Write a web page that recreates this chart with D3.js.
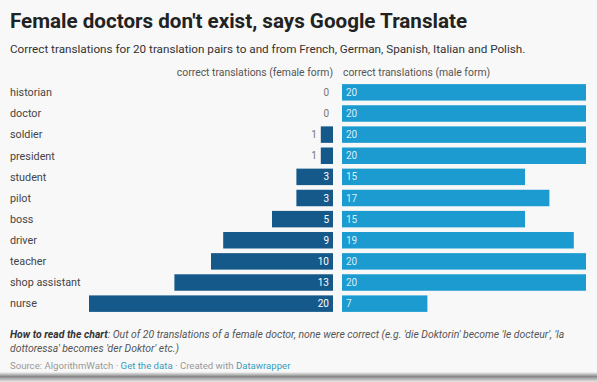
<!DOCTYPE html>
<html><head><meta charset="utf-8">
<script src="https://cdn.jsdelivr.net/npm/d3@7"></script>
<style>
html,body{margin:0;padding:0;background:#f7f7f7;}
svg{display:block;font-family:Roboto, "Noto Sans", sans-serif;}
</style></head>
<body>
<svg id="c" width="597" height="382"></svg>
<script>
const categories = ["historian","doctor","soldier","president","student","pilot","boss","driver","teacher","shop assistant","nurse"];
const femaleValues = [0,0,1,1,3,3,5,9,10,13,20];
const maleValues = [20,20,20,20,15,17,15,19,20,20,7];
const femaleLabel = "correct translations (female form)";
const maleLabel = "correct translations (male form)";

const svg = d3.select("#c");
const W = 597, H = 382;

const defs = svg.append("defs");
const g = defs.append("linearGradient").attr("id","sh").attr("x1",0).attr("x2",0).attr("y1",0).attr("y2",1);
g.append("stop").attr("offset","0%").attr("stop-color","#f7f7f7");
g.append("stop").attr("offset","45%").attr("stop-color","#888");
g.append("stop").attr("offset","100%").attr("stop-color","#e8e8e8");
svg.append("rect").attr("width",W).attr("height",H).attr("fill","#f8f8f8");
svg.append("rect").attr("x",0).attr("y",372).attr("width",W).attr("height",10).attr("fill","url(#sh)");

svg.append("text").attr("x",10).attr("y",28).attr("font-size",20.6).attr("font-weight",700).attr("fill","#222")
  .text("Female doctors don't exist, says Google Translate");
svg.append("text").attr("x",10).attr("y",53).attr("font-size",11.7).attr("fill","#333")
  .text("Correct translations for 20 translation pairs to and from French, German, Spanish, Italian and Polish.");

const y = d3.scaleBand().domain(categories).range([82, 314]).paddingInner(0.22).paddingOuter(0.1);
const xF = d3.scaleLinear().domain([0,20]).range([333, 89]);
const xM = d3.scaleLinear().domain([0,20]).range([342, 586]);

svg.append("text").attr("x",333).attr("y",76).attr("text-anchor","end").attr("font-size",10.4).attr("fill","#555").text(femaleLabel);
svg.append("text").attr("x",343).attr("y",76).attr("font-size",10.4).attr("fill","#555").text(maleLabel);

const rows = svg.append("g").selectAll("g").data(categories).join("g");
rows.append("text").attr("x",10).attr("y",d=>y(d)+y.bandwidth()/2+3.8).attr("font-size",10.8).attr("fill","#444").text(d=>d);

rows.append("rect").attr("x",(d,i)=>xF(femaleValues[i])).attr("y",d=>y(d))
  .attr("width",(d,i)=>xF(0)-xF(femaleValues[i])).attr("height",y.bandwidth()).attr("fill","#15588a");
rows.append("text").attr("text-anchor","end").attr("font-size",10)
  .attr("x",(d,i)=>femaleValues[i] >= 3 ? xF(0)-4 : xF(femaleValues[i])-4)
  .attr("y",d=>y(d)+y.bandwidth()/2+3.6)
  .attr("fill",(d,i)=>femaleValues[i] >= 3 ? "#fff" : "#777")
  .text((d,i)=>femaleValues[i]);

rows.append("rect").attr("x",xM(0)).attr("y",d=>y(d))
  .attr("width",(d,i)=>xM(maleValues[i])-xM(0)).attr("height",y.bandwidth()).attr("fill","#1b9bd0");
rows.append("text").attr("font-size",10).attr("x",xM(0)+4)
  .attr("y",d=>y(d)+y.bandwidth()/2+3.6).attr("fill","#fff").attr("fill-opacity",0.85)
  .text((d,i)=>maleValues[i]);

const n1 = svg.append("text").attr("x",10).attr("y",338).attr("font-size",10.4).attr("fill","#555").attr("font-style","italic");
n1.append("tspan").attr("font-weight",700).attr("fill","#333").text("How to read the chart");
n1.append("tspan").text(": Out of 20 translations of a female doctor, none were correct (e.g. 'die Doktorin' become 'le docteur', 'la");
svg.append("text").attr("x",10).attr("y",352).attr("font-size",10.4).attr("fill","#555").attr("font-style","italic")
  .text("dottoressa' becomes 'der Doktor' etc.)");
const s = svg.append("text").attr("x",10).attr("y",369).attr("font-size",9.6).attr("fill","#999");
s.append("tspan").text("Source: AlgorithmWatch · ");
s.append("tspan").attr("fill","#3a9cc0").text("Get the data");
s.append("tspan").text(" · Created with ");
s.append("tspan").attr("fill","#3a9cc0").text("Datawrapper");
</script>
</body></html>
